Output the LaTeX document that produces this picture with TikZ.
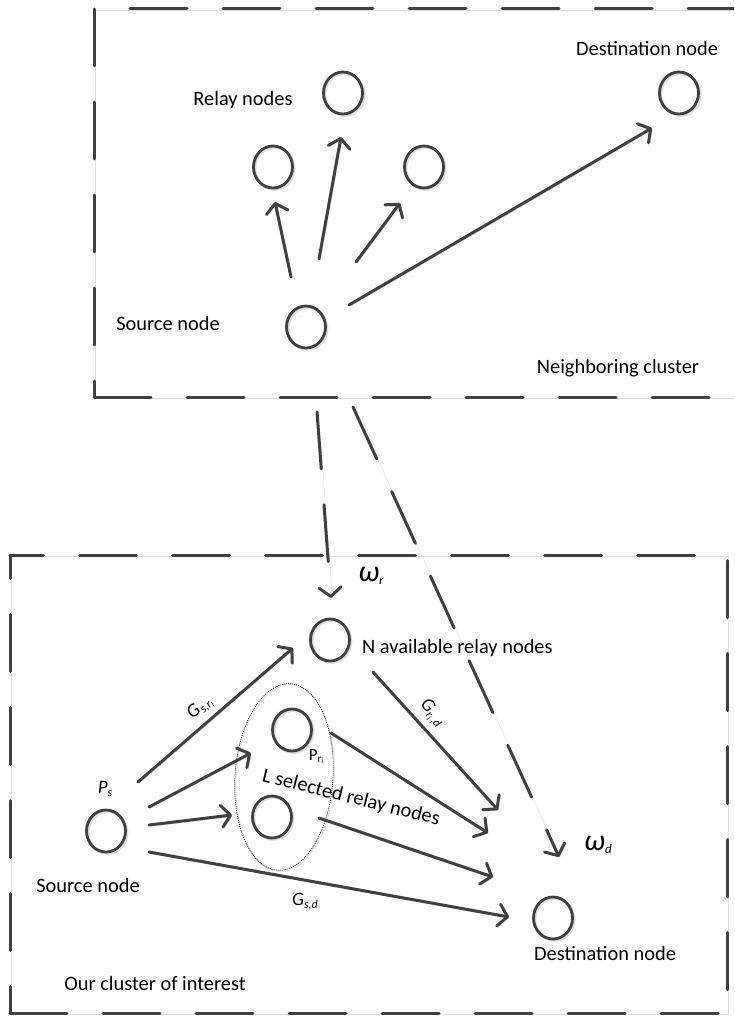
\documentclass[tikz,border=0pt]{standalone}
\usepackage{fontspec}
\setmainfont{Carlito}
\usetikzlibrary{arrows.meta,calc,shapes.geometric}

\definecolor{linegray}{RGB}{64,64,64}
\newcommand\lblfont{\fontsize{20.4}{24}\selectfont}
\newcommand\subfont{\fontsize{12}{12}\selectfont}
\newcommand\tinyfont{\fontsize{8}{8}\selectfont}

\begin{document}
\begin{tikzpicture}[x=1pt,y=-1pt,
    shade line/.style={preaction={draw=black!13,transform canvas={shift={(1.5pt,-1.5pt)}}}},
    nd/.style={ellipse,draw=linegray,line width=2.8pt,minimum width=39pt,minimum height=42pt,inner sep=0pt,shade line},
    arr/.style={draw=linegray,line width=3pt,line cap=round,-{Straight Barb[round,length=9pt,width=22pt]},shade line},
    dsh/.style={arr,dash pattern=on 57pt off 36pt},
    frame/.style={draw=linegray,line width=3pt,line cap=round,dash pattern=on 57pt off 36pt,shade line},
    lbl/.style={font=\lblfont,inner sep=0pt,text=black}]

\useasboundingbox (0,0) rectangle (734,1016);
\clip (0,0) rectangle (734,1016);

% neighboring cluster frame (open to the right)
\draw[frame] (94,9) -- (94,397);
\draw[frame] (94,397) -- (770,397);
\draw[frame,dash phase=57pt] (94,9) -- (770,9);

\node[nd] (ts) at (306,327) {};
\node[nd] (tr1) at (273,167) {};
\node[nd] (tr2) at (343,93) {};
\node[nd] (tr3) at (424,167) {};
\node[nd] (td) at (679,93) {};

\draw[arr] ($(ts)+(-15,-50)$) -- ($(tr1)+(2,35)$);
\draw[arr] ($(ts)+(13,-68)$) -- ($(tr2)+(-2,44)$);
\draw[arr] ($(ts)+(50,-65)$) -- ($(tr3)+(-24,36)$);
\draw[arr] ($(ts)+(43,-22)$) -- ($(td)+(-27,35)$);

\node[lbl] (trl) at (243,100) {Relay nodes};
\node[lbl] (tdl) at (647,48) {Destination node};
\node[lbl] (tsl) at (168,323) {Source node};
\node[lbl] (tcl) at (618,368) {Neighboring cluster};

% cluster of interest frame
\draw[frame,dash phase=23.5pt] (10,555) -- (727,555);
\draw[frame,dash phase=30.5pt] (10,1013) -- (10,555);
\draw[frame] (10,1013) -- (727,1013);
\draw[frame,dash phase=69.5pt] (727,1013) -- (727,555);

\node[nd] (ls) at (106,831) {};
\node[nd] (lr) at (330,640) {};
\node[nd] (lr1) at (292,730) {};
\node[nd] (lr2) at (272,817) {};
\node[nd] (ld) at (553,918) {};

% the L selected relays
\node[ellipse,draw=black,line width=0.7pt,dash pattern=on 1pt off 1pt,minimum width=98pt,minimum height=187pt,rotate=-4,
      preaction={draw=black!12,solid,line width=1pt,transform canvas={shift={(1.2pt,-1.2pt)}}}] (grp) at (284,777) {};

\draw[arr] ($(ls)+(32,-49)$) -- ($(lr)+(-37,8)$);
\draw[arr] ($(ls)+(43,-24)$) -- ($(lr1)+(-41,23)$);
\draw[arr] ($(ls)+(43,-6)$) -- ($(lr2)+(-40,-2)$);
\draw[arr] ($(ls)+(43,21)$) -- ($(ld)+(-44,-1)$);
\draw[arr] ($(lr)+(43,32)$) -- ($(ld)+(-55,-108)$);
\draw[arr] ($(lr1)+(39,3)$) -- ($(ld)+(-65,-85)$);
\draw[arr] ($(lr2)+(47,1)$) -- ($(ld)+(-60,-41)$);

% interference from the neighboring cluster
\draw[dsh] ($(ts)+(11,85)$) -- ($(lr)+(1,-42)$);
\draw[dsh] ($(ts)+(47,80)$) -- ($(ld)+(6,-61)$);

\node[lbl,font=\fontsize{30}{30}\selectfont\itshape] (wr) at (371,576) {ω\raisebox{-3pt}{\fontsize{13}{13}\selectfont r}};
\node[lbl,font=\fontsize{30}{30}\selectfont\itshape] (wd) at (598,845) {ω\raisebox{-3pt}{\fontsize{13}{13}\selectfont d}};

\node[lbl,anchor=west] (lrl) at (362,648) {N available relay nodes};
\node[lbl,rotate=-14] (grpl) at (351,798) {L selected relay nodes};
\node[lbl,font=\fontsize{17}{17}\selectfont] (prl) at (316,757) {P\raisebox{-2pt}{\fontsize{11}{11}\selectfont r\raisebox{-1pt}{\tinyfont i}}};
\node[lbl,font=\fontsize{19}{19}\selectfont\itshape] (psl) at (105,789) {P\raisebox{-3pt}{\subfont s}};

\node[lbl,rotate=41,font=\fontsize{19}{19}\selectfont\itshape] (gsr) at (200,708) {G\raisebox{-3pt}{\subfont s,r\raisebox{-2pt}{\tinyfont i}}};
\node[lbl,rotate=-50,font=\fontsize{19}{19}\selectfont\itshape] (grd) at (432,713) {G\raisebox{-3pt}{\subfont r\raisebox{-2pt}{\tinyfont i}\,,d}};
\node[lbl,font=\fontsize{19}{19}\selectfont\itshape] (gsd) at (305,902) {G\raisebox{-3pt}{\subfont s,d}};

\node[lbl] (lsl) at (88,885) {Source node};
\node[lbl] (ldl) at (605,953) {Destination node};
\node[lbl] (lcl) at (155,983) {Our cluster of interest};

\end{tikzpicture}
\end{document}
